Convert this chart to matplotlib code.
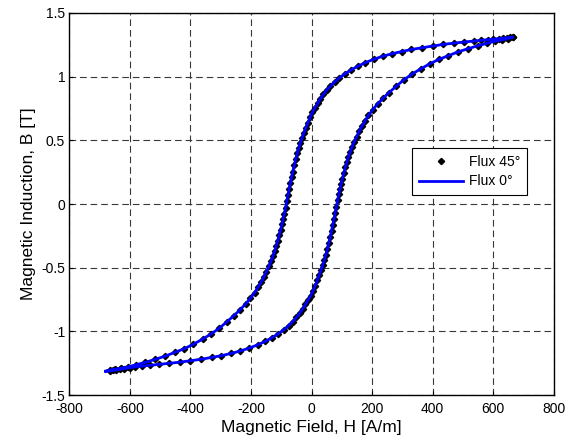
import matplotlib
matplotlib.use("Agg")
import matplotlib.pyplot as plt

plt.rcParams['font.family'] = ['Liberation Sans', 'DejaVu Sans']
plt.rcParams['axes.unicode_minus'] = False

# Descending branch (from +Hmax to -Hmax), Flux 45 deg
h_desc = [665, 655, 645, 632, 618, 600, 582, 560, 535, 505, 470, 435, 400, 365, 330, 298, 266, 235, 205, 178,
          153, 130, 110, 92, 76, 62, 50, 39, 29, 20, 11, 3, -5, -12, -19, -25, -31, -37, -42, -47,
          -52, -57, -62, -66, -70, -74, -78, -82, -86, -90, -94, -98, -102, -107, -112, -117, -122, -128, -134, -141,
          -149, -157, -166, -176, -188, -202, -218, -236, -256, -280, -305, -332, -360, -390, -420, -452, -485, -518, -550, -580,
          -605, -628, -648, -666]
b_desc = [1.310, 1.308, 1.305, 1.302, 1.299, 1.295, 1.291, 1.286, 1.280, 1.272, 1.263, 1.253, 1.240, 1.227, 1.213, 1.197, 1.180, 1.160, 1.136, 1.110,
          1.082, 1.052, 1.022, 0.990, 0.958, 0.925, 0.895, 0.860, 0.825, 0.790, 0.755, 0.720, 0.680, 0.640, 0.600, 0.560, 0.520, 0.480, 0.440, 0.400,
          0.355, 0.305, 0.255, 0.210, 0.165, 0.120, 0.070, 0.020, -0.030, -0.075, -0.120, -0.160, -0.200, -0.245, -0.290, -0.330, -0.370, -0.410, -0.450, -0.490,
          -0.530, -0.570, -0.610, -0.650, -0.695, -0.740, -0.785, -0.830, -0.875, -0.925, -0.975, -1.020, -1.060, -1.100, -1.135, -1.165, -1.195, -1.220, -1.243, -1.262,
          -1.277, -1.288, -1.296, -1.303]

# Ascending branch (from -Hmax to +Hmax), Flux 45 deg
h_asc = [-666, -655, -645, -632, -618, -600, -582, -560, -535, -505, -470, -435, -400, -365, -330, -298, -266, -235, -205, -178,
         -153, -130, -110, -92, -76, -62, -50, -39, -29, -20, -11, -3, 5, 12, 19, 25, 31, 37, 42, 47,
         52, 57, 62, 66, 70, 74, 78, 82, 86, 90, 94, 98, 102, 107, 112, 117, 122, 128, 134, 141,
         149, 157, 166, 176, 188, 202, 218, 236, 256, 280, 305, 332, 360, 390, 420, 452, 485, 518, 550, 580,
         605, 628, 648, 665]
b_asc = [-1.310, -1.306, -1.302, -1.297, -1.291, -1.284, -1.278, -1.272, -1.266, -1.259, -1.250, -1.241, -1.230, -1.218, -1.204, -1.190, -1.173, -1.153, -1.130, -1.105,
         -1.078, -1.048, -1.018, -0.987, -0.955, -0.922, -0.890, -0.856, -0.822, -0.788, -0.752, -0.718, -0.680, -0.640, -0.600, -0.560, -0.520, -0.480, -0.440, -0.400,
         -0.355, -0.305, -0.255, -0.210, -0.165, -0.120, -0.070, -0.020, 0.030, 0.075, 0.120, 0.160, 0.200, 0.245, 0.290, 0.330, 0.370, 0.410, 0.450, 0.490,
         0.530, 0.570, 0.610, 0.650, 0.695, 0.740, 0.785, 0.830, 0.875, 0.925, 0.975, 1.020, 1.060, 1.100, 1.135, 1.165, 1.195, 1.220, 1.243, 1.262,
         1.277, 1.288, 1.298, 1.310]

# Flux 0 deg (overlaps the 45 deg loop)
h_flux0 = [-680] + h_asc + h_desc[1:] + [-680]
b_flux0 = [-1.312] + b_asc + b_desc[1:] + [-1.312]

h_flux45 = h_asc + h_desc
b_flux45 = b_asc + b_desc

xticks = [-800, -600, -400, -200, 0, 200, 400, 600, 800]
yticks = [-1.5, -1, -0.5, 0, 0.5, 1, 1.5]
yticklabels = ['-1.5', '-1', '-0.5', '0', '0.5', '1', '1.5']

fig = plt.figure(figsize=(5.78, 4.46), dpi=100)
ax = fig.add_axes([0.120, 0.114, 0.838, 0.857])

ax.plot(h_flux45, b_flux45, linestyle='none', marker='D', markersize=3.2,
        color='black', label='Flux 45°', zorder=3)
ax.plot(h_flux0, b_flux0, color='#0000ff', linewidth=2.0, label='Flux 0°', zorder=4)

ax.set_xlim(-800, 800)
ax.set_ylim(-1.5, 1.5)
ax.set_xticks(xticks)
ax.set_yticks(yticks)
ax.set_yticklabels(yticklabels)
ax.tick_params(direction='in', length=3, labelsize=10, width=0.8)
ax.tick_params(axis='x', pad=5)
ax.tick_params(axis='y', pad=3)
ax.grid(True, linestyle=(0, (6, 3.5)), color='#383838', linewidth=0.8)
for s in ax.spines.values():
    s.set_linewidth(1.0)

ax.set_xlabel('Magnetic Field, H [A/m]', fontsize=12.5, labelpad=3)
ax.set_ylabel('Magnetic Induction, B [T]', fontsize=12.5)

leg = ax.legend(loc='upper left', bbox_to_anchor=(0.693, 0.665), fontsize=10,
                frameon=True, fancybox=False, edgecolor='black', framealpha=1,
                handlelength=3.2, borderpad=0.5, labelspacing=0.4, handletextpad=0.4)
leg.get_frame().set_linewidth(0.8)

fig.savefig('out.png', dpi=100)
